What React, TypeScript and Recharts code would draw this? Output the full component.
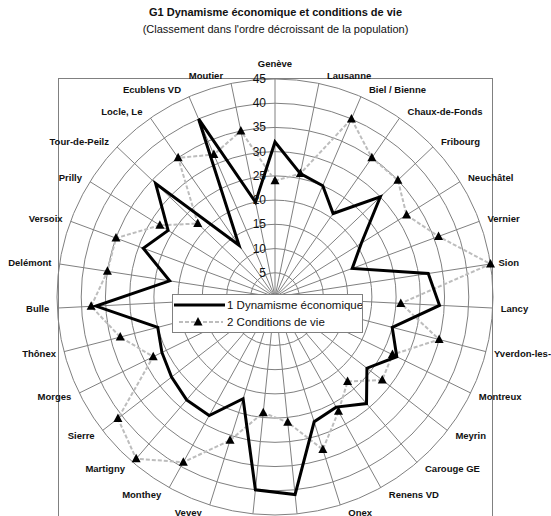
import React from "react";
import { RadarChart, Radar, PolarGrid, PolarAngleAxis, PolarRadiusAxis } from "recharts";

// villes dans l'ordre décroissant de la population (les 2 du bas sont coupées)
const cities = [
  "Genève", "Lausanne", "Biel / Bienne", "Chaux-de-Fonds", "Fribourg", "Neuchâtel",
  "Vernier", "Sion", "Lancy", "Yverdon-les-Bains", "Montreux", "Meyrin", "Carouge GE",
  "Renens VD", "Onex", "Nyon", "Pully", "Vevey", "Monthey", "Martigny", "Sierre",
  "Morges", "Thônex", "Bulle", "Delémont", "Versoix", "Prilly", "Tour-de-Peilz",
  "Locle, Le", "Ecublens VD", "Moutier",
];
const dynamisme = [32, 26, 25, 21, 30, 21, 17, 32, 34, 25, 28, 24, 29, 26, 27, 41, 40, 22, 28, 28, 27, 26, 25, 37, 22, 29, 26, 34, 13, 40, 20];
const conditions = [24, 26, 40, 35, 35, 32, 36, 45, 26, 35, 27, 28, 23, 27, 33, 26, 24, 31, 39, 44, 41, 28, 33, 38, 35, 35, 28, 22, 35, 32, 35];
const radiusTicks = [0, 5, 10, 15, 20, 25, 30, 35, 40, 45];

const data = cities.map((city, i) => ({ city, dynamisme: dynamisme[i], conditions: conditions[i] }));

const CX = 275;
const CY = 297;
const R = 218;
const FONT = '"Liberation Sans", Arial, Helvetica, sans-serif';

function CityTick(props: any) {
  const { payload } = props;
  const i = cities.indexOf(payload.value);
  const a = ((90 - (i * 360) / cities.length) * Math.PI) / 180;
  const c = Math.cos(a);
  const s = Math.sin(a);
  let x = CX + R * c;
  let y = CY - R * s;
  let anchor = "middle";
  if (Math.abs(c) < 0.05) {
    y -= 16 * Math.sign(s);
  } else {
    anchor = c > 0 ? "start" : "end";
    x += 8 * Math.sign(c);
    y -= 8 * s;
  }
  return (
    <text x={x} y={y} textAnchor={anchor} dominantBaseline="central" fontSize={9.5} fontWeight="bold" fill="#111" fontFamily={FONT}>
      {payload.value}
    </text>
  );
}

function ValueTick(props: any) {
  const { x, y, payload } = props;
  if (payload.value === 0) return null;
  return (
    <text x={x - 9} y={y} textAnchor="end" dominantBaseline="central" fontSize={12} fill="#111" fontFamily={FONT}>
      {payload.value}
    </text>
  );
}

function Triangle(props: any) {
  const { cx, cy, index } = props;
  return <path key={index} d={`M${cx},${cy - 5} L${cx + 4.5},${cy + 3.5} L${cx - 4.5},${cy + 3.5} Z`} fill="#000" />;
}

export default function App() {
  return (
    <div style={{ position: "absolute", left: 0, top: 0, width: 551, height: 516, overflow: "hidden", background: "#fff", fontFamily: FONT }}>
      <div style={{ position: "absolute", left: 0, width: 551, top: 6, textAlign: "center", fontSize: 11, fontWeight: "bold", color: "#111" }}>
        G1 Dynamisme économique et conditions de vie
      </div>
      <div style={{ position: "absolute", left: 0, width: 551, top: 23, textAlign: "center", fontSize: 11, color: "#111" }}>
        (Classement dans l'ordre décroissant de la population)
      </div>
      <div style={{ position: "absolute", left: 58, top: 78, width: 433, height: 480, border: "1px solid #808080" }} />

      <div style={{ position: "absolute", left: 0, top: 0 }}>
        <RadarChart width={551} height={516} data={data} cx={CX} cy={CY} outerRadius={R} margin={{ top: 0, right: 0, bottom: 0, left: 0 }}>
          <PolarGrid gridType="circle" stroke="#808080" strokeWidth={1} />
          <PolarAngleAxis dataKey="city" tick={<CityTick />} tickLine={false} axisLine={false} />
          <PolarRadiusAxis angle={90} domain={[0, 45]} ticks={radiusTicks} tickCount={10} tick={<ValueTick />} axisLine={false} tickLine={false} />
          <Radar
            name="2 Conditions de vie"
            dataKey="conditions"
            stroke="#bdbdbd"
            strokeWidth={2}
            strokeDasharray="4 2"
            fill="none"
            fillOpacity={0}
            dot={Triangle}
            isAnimationActive={false}
          />
          <Radar
            name="1 Dynamisme économique"
            dataKey="dynamisme"
            stroke="#000"
            strokeWidth={3}
            fill="none"
            fillOpacity={0}
            dot={false}
            isAnimationActive={false}
          />
        </RadarChart>
      </div>

      <div style={{ position: "absolute", left: 172, top: 294, width: 189, height: 37, border: "1px solid #808080", background: "#fff" }}>
        <svg width={189} height={37} style={{ position: "absolute", left: 0, top: 0 }}>
          <line x1={1} y1={10} x2={52} y2={10} stroke="#000" strokeWidth={3} />
          <text x={54} y={10} dominantBaseline="central" fontSize={11.5} fill="#111" fontFamily={FONT}>1 Dynamisme économique</text>
          <line x1={6} y1={27} x2={50} y2={27} stroke="#bdbdbd" strokeWidth={2} strokeDasharray="4 2" />
          <path d="M25,22 L29.5,30.5 L20.5,30.5 Z" fill="#000" />
          <text x={54} y={27} dominantBaseline="central" fontSize={11.5} fill="#111" fontFamily={FONT}>2 Conditions de vie</text>
        </svg>
      </div>
    </div>
  );
}
